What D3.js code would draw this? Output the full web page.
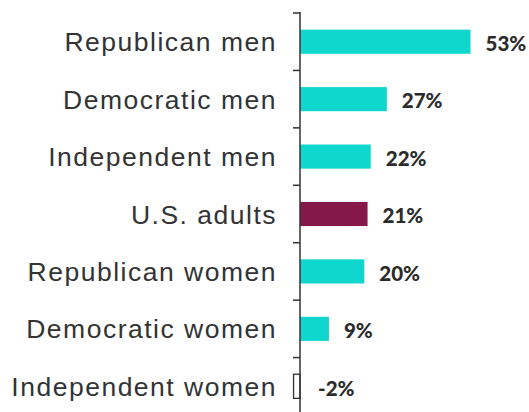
<html>
<head>
<script src="https://d3js.org/d3.v7.min.js"></script>
<style>
  body { margin: 0; background: #fff; }
  .cat { font-family: "Liberation Sans", Arial, sans-serif; font-size: 26.5px; fill: #333; letter-spacing: 1.5px; }
  .val { font-family: Lato, "Open Sans", sans-serif; font-weight: 900; font-size: 20.5px; fill: #2b2b2b; }
</style>
</head>
<body>
<svg width="529" height="412"></svg>
<script>
const groups = ["Republican men", "Democratic men", "Independent men", "U.S. adults",
                "Republican women", "Democratic women", "Independent women"];
const values = [53, 27, 22, 21, 20, 9, -2];
const labels = ["53%", "27%", "22%", "21%", "20%", "9%", "-2%"];
const highlight = "U.S. adults";

const svg = d3.select("svg");
const axisX = 300;

const x = d3.scaleLinear().domain([0, 53]).range([axisX, 470.5]);
const yTicks = d3.scaleBand().domain(groups).range([13, 415]).padding(0);
const y = d3.scaleBand().domain(groups).range([13, 415]).paddingInner(0.58).paddingOuter(0.29);

// bars
svg.append("g").selectAll("rect")
  .data(groups)
  .enter()
  .append("rect")
    .attr("x", (d, i) => x(Math.min(0, values[i])))
    .attr("y", d => y(d))
    .attr("width", (d, i) => Math.abs(x(values[i]) - x(0)))
    .attr("height", y.bandwidth())
    .style("fill", (d, i) => values[i] < 0 ? "#fff" : (d == highlight ? "#85174b" : "#10d7cd"))
    .style("stroke", (d, i) => values[i] < 0 ? "#333" : "none")
    .style("stroke-width", 1.3);

// axis line + ticks between categories
const ax = svg.append("g");
ax.append("line")
  .attr("x1", axisX).attr("x2", axisX)
  .attr("y1", yTicks(groups[0]) - 1).attr("y2", 412)
  .style("stroke", "#333").style("stroke-width", 1.5);
ax.selectAll(".tick")
  .data(groups)
  .enter()
  .append("line")
    .attr("x1", axisX - 7).attr("x2", axisX)
    .attr("y1", d => yTicks(d)).attr("y2", d => yTicks(d))
    .style("stroke", "#333").style("stroke-width", 1.5);

// category labels
svg.append("g").selectAll("text")
  .data(groups)
  .enter()
  .append("text")
    .attr("class", "cat")
    .attr("x", 277)
    .attr("y", d => y(d) + y.bandwidth() / 2)
    .attr("dy", "0.36em")
    .style("text-anchor", "end")
    .text(d => d);

// value labels
svg.append("g").selectAll("text")
  .data(groups)
  .enter()
  .append("text")
    .attr("class", "val")
    .attr("x", (d, i) => x(Math.max(0, values[i])) + (values[i] < 0 ? 18 : 15))
    .attr("y", d => y(d) + y.bandwidth() / 2)
    .attr("dy", "0.45em")
    .text((d, i) => labels[i]);
</script>
</body>
</html>
